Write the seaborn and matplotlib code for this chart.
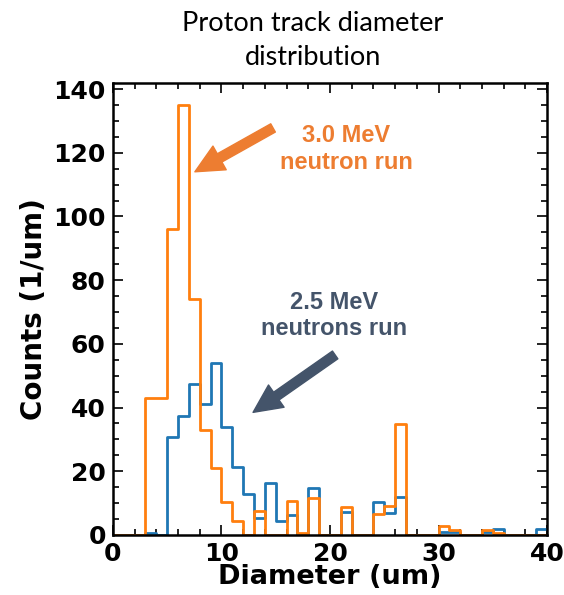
import numpy as np
import pandas as pd
import matplotlib
matplotlib.use("Agg")
import matplotlib.pyplot as plt
import seaborn as sns

# bin edges (um) and per-bin counts
bin_edges = list(range(0, 41))
counts_3mev = [0, 0, 0, 43, 43, 96, 135, 74, 33, 21,
               10.3, 4.4, 0, 7.5, 0, 0, 10.7, 0.7, 11.6, 0,
               0, 8.9, 0, 0, 6.5, 9.2, 34.7, 0, 0, 0,
               2.8, 1.5, 0, 0, 1.5, 0.5, 0, 0, 0, 0]
counts_25mev = [0, 0, 0, 0.7, 0, 30.6, 37.4, 47.5, 41, 54,
                34, 21.2, 13, 5.4, 16.3, 4.5, 6.1, 0, 14.6, 0,
                0, 7.3, 0, 0, 10.4, 6.8, 11.8, 0, 0, 0,
                0.8, 0.8, 0, 0, 1.0, 1.7, 0, 0, 0, 1.7]

x_ticks = [0, 10, 20, 30, 40]
y_ticks = [0, 20, 40, 60, 80, 100, 120, 140]

centers = np.array(bin_edges[:-1]) + 0.5
df_orange = pd.DataFrame({"diameter": centers, "counts": counts_3mev})
df_blue = pd.DataFrame({"diameter": centers, "counts": counts_25mev})

sns.set_style("ticks")
plt.rcParams["font.family"] = ["DejaVu Sans"]
plt.rcParams["text.color"] = "black"
plt.rcParams["axes.labelcolor"] = "black"
plt.rcParams["xtick.color"] = "black"
plt.rcParams["ytick.color"] = "black"
plt.rcParams["axes.edgecolor"] = "black"

fig = plt.figure(figsize=(5.64, 5.95), dpi=100)
ax = fig.add_axes([0.200, 0.101, 0.770, 0.760])

# blue first so the orange outline sits on top
sns.histplot(data=df_blue, x="diameter", weights="counts", binwidth=1, binrange=(0, 40),
             element="step", fill=False, color="#1f77b4", linewidth=2, ax=ax)
sns.histplot(data=df_orange, x="diameter", weights="counts", binwidth=1, binrange=(0, 40),
             element="step", fill=False, color="#ff7f0e", linewidth=2, ax=ax)

ax.set_xlim(0, 40)
ax.set_ylim(0, 142)
ax.set_xticks(x_ticks)
ax.set_yticks(y_ticks)
ax.set_xticks(np.arange(0, 41, 2), minor=True)
ax.set_yticks(np.arange(0, 141, 5), minor=True)
ax.tick_params(which="both", direction="in", top=True, right=True, width=1.2)
ax.tick_params(which="major", length=7, labelsize=18, pad=5)
ax.tick_params(which="minor", length=4)
for lab in ax.get_xticklabels() + ax.get_yticklabels():
    lab.set_fontweight("bold")
for sp in ax.spines.values():
    sp.set_linewidth(1.8)
    sp.set_visible(True)

ax.set_xlabel("Diameter (um)", fontsize=19.5, fontweight="bold", labelpad=-1)
ax.set_ylabel("Counts (1/um)", fontsize=20, fontweight="bold", labelpad=4)

fig.text(0.555, 0.982, "Proton track diameter\ndistribution", ha="center", va="top",
         fontsize=19.5, family=["Lato", "DejaVu Sans"], linespacing=1.45)

# annotations with arrows
ax.annotate("", xy=(0.189, 0.803), xytext=(0.369, 0.900), xycoords="axes fraction",
            arrowprops=dict(arrowstyle="simple,tail_width=0.4,head_width=1.15,head_length=1.2",
                            mutation_scale=17, color="#ED7D31", shrinkA=0, shrinkB=0))
ax.text(0.537, 0.854, "3.0 MeV\nneutron run", transform=ax.transAxes, ha="center", va="center",
        fontsize=17, fontweight="bold", color="#ED7D31", family=["Liberation Sans"], linespacing=1.2)

ax.annotate("", xy=(0.323, 0.271), xytext=(0.512, 0.398), xycoords="axes fraction",
            arrowprops=dict(arrowstyle="simple,tail_width=0.4,head_width=1.15,head_length=1.2",
                            mutation_scale=17, color="#44546A", shrinkA=0, shrinkB=0))
ax.text(0.509, 0.485, "2.5 MeV\nneutrons run", transform=ax.transAxes, ha="center", va="center",
        fontsize=17, fontweight="bold", color="#44546A", family=["Liberation Sans"], linespacing=1.2)

fig.savefig("out.png", dpi=100)
